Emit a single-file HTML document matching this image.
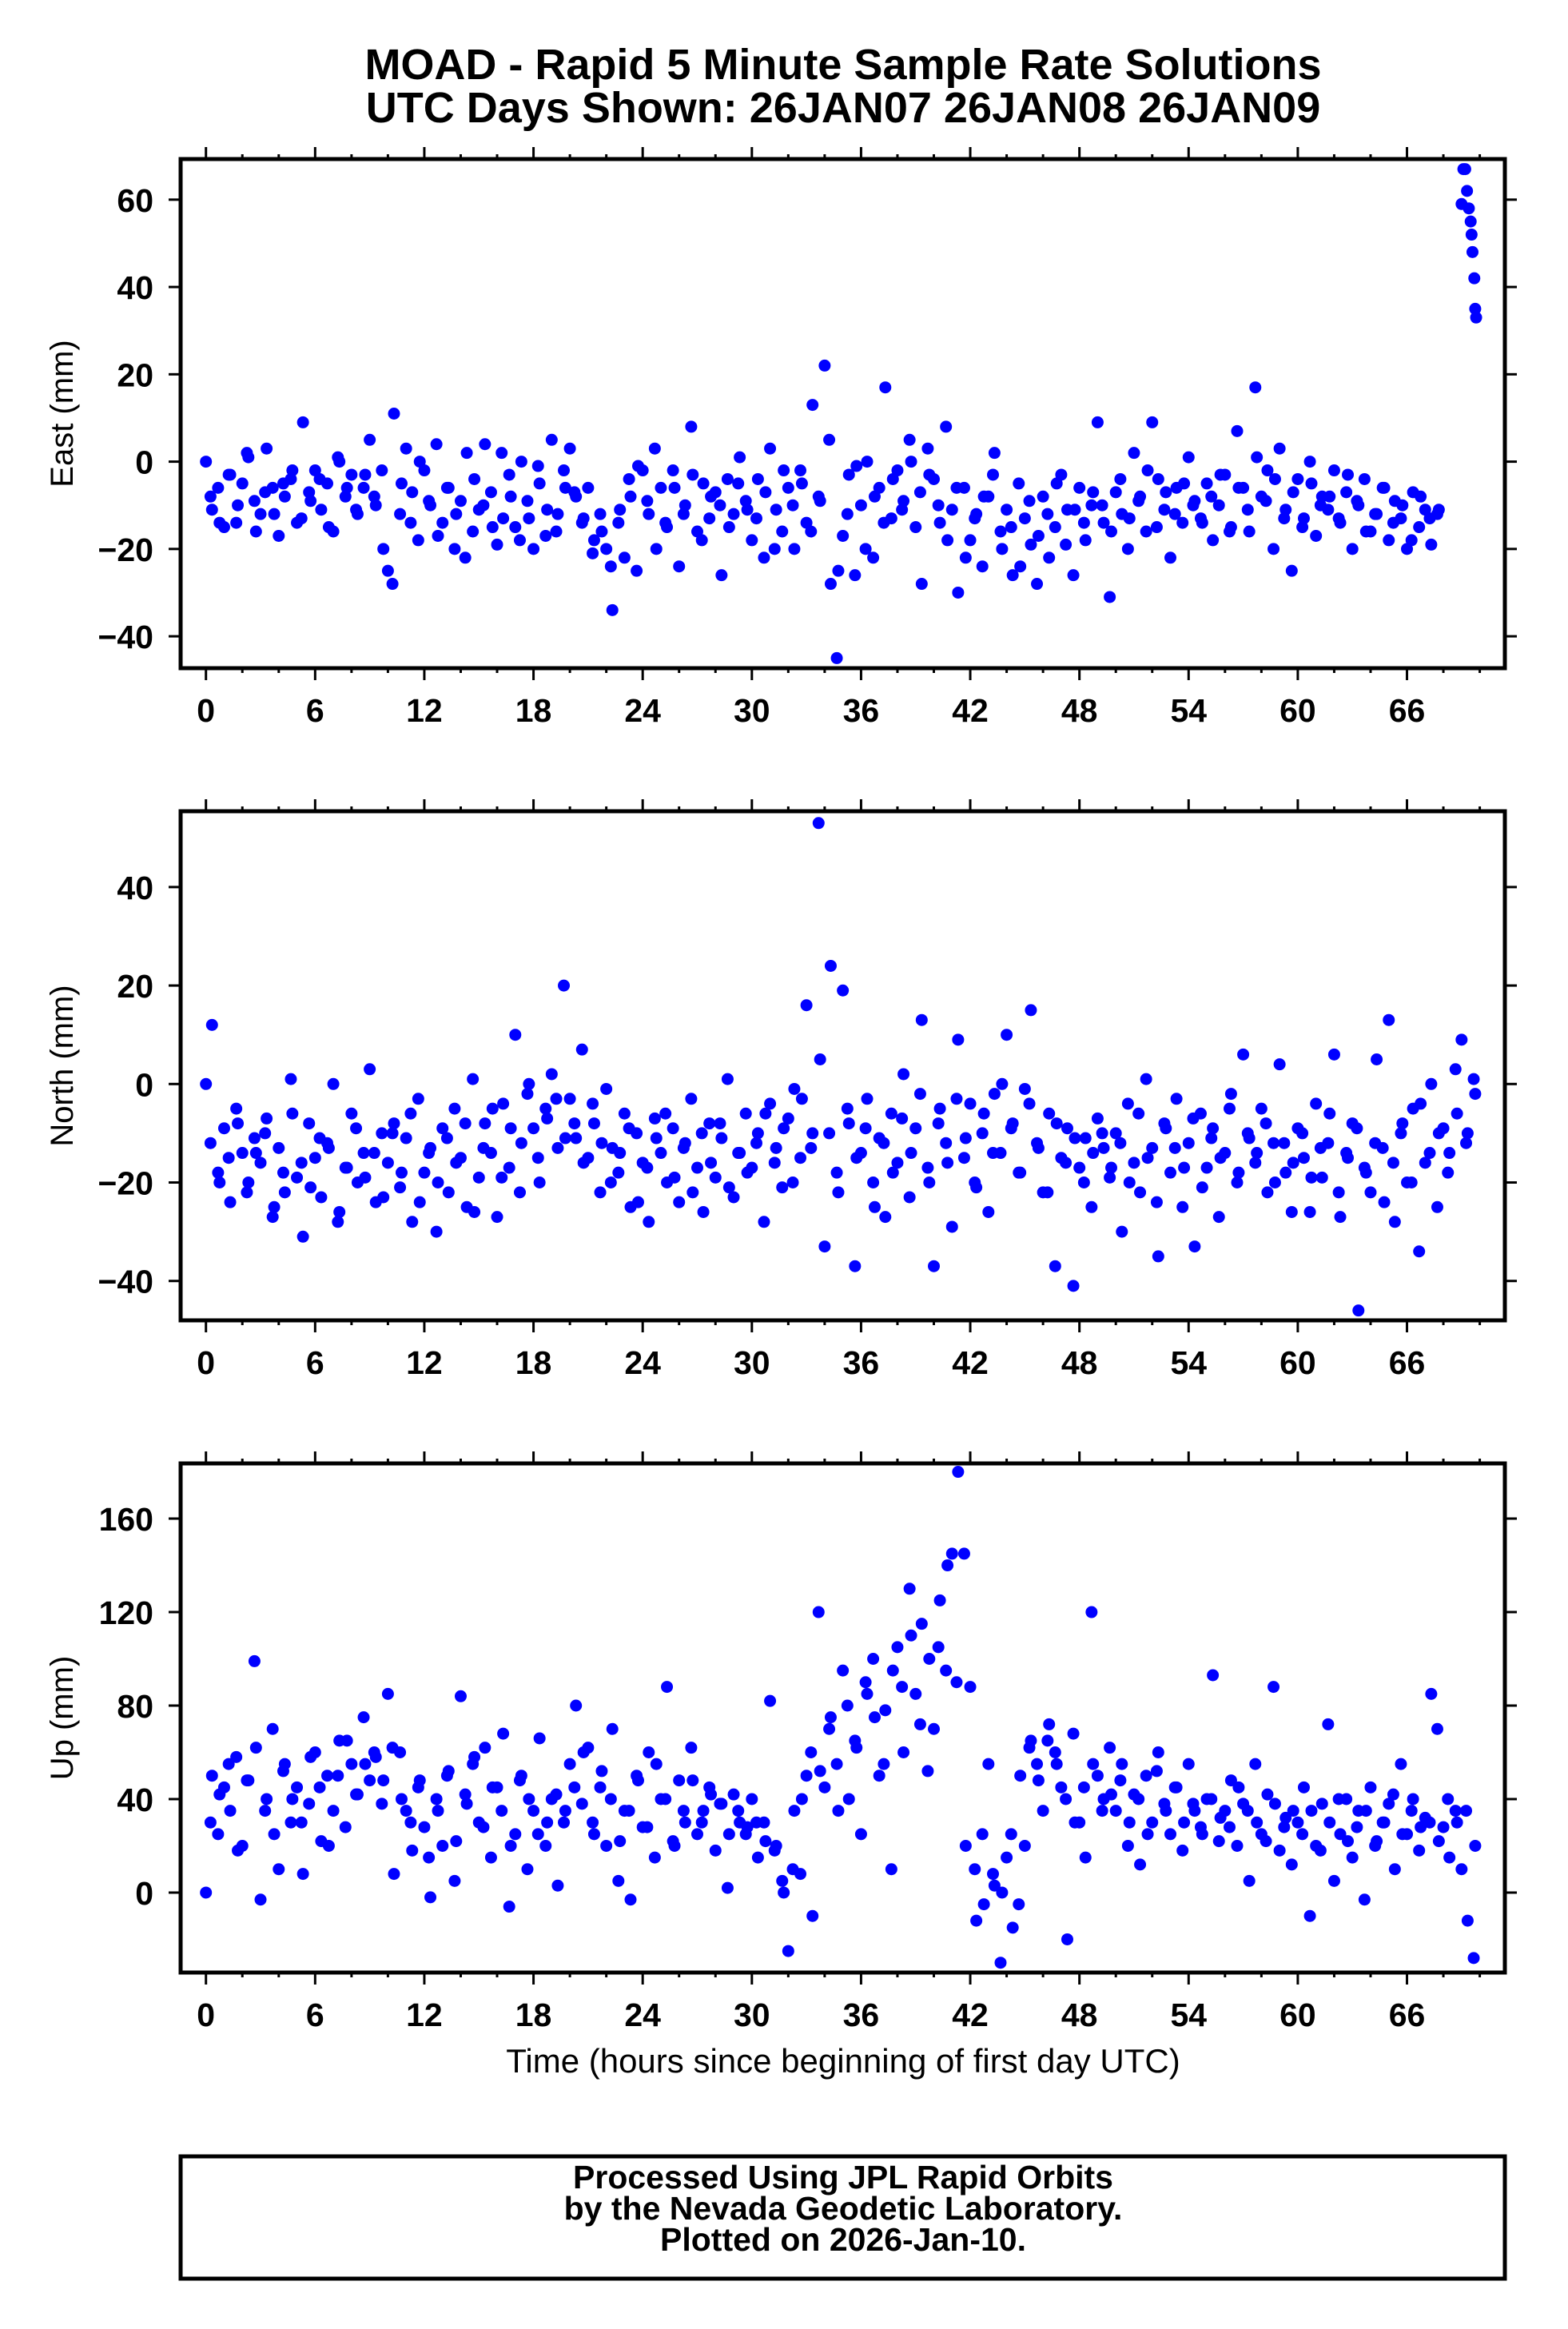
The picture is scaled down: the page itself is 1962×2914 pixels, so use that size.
<!DOCTYPE html>
<html><head><meta charset="utf-8"><style>
html,body{margin:0;padding:0;background:#fff}
svg{display:block}
text{font-family:"Liberation Sans",Arial,sans-serif}
</style></head><body>
<svg id="chart" width="1962" height="2914" viewBox="0 0 1962 2914" xmlns="http://www.w3.org/2000/svg">
<text x="1055" y="99" text-anchor="middle" font-size="54" font-weight="bold">MOAD - Rapid 5 Minute Sample Rate Solutions</text>
<text x="1055" y="153" text-anchor="middle" font-size="54" font-weight="bold">UTC Days Shown:  26JAN07 26JAN08 26JAN09</text>
<g id="panels"></g>
<text x="1055" y="2593" text-anchor="middle" font-size="42">Time (hours since beginning of first day UTC)</text>
<rect x="226" y="2698" width="1657" height="153" fill="none" stroke="#000" stroke-width="5"/>
<text x="1055" y="2738" text-anchor="middle" font-size="41" font-weight="bold">Processed Using JPL Rapid Orbits</text>
<text x="1055" y="2777" text-anchor="middle" font-size="41" font-weight="bold">by the Nevada Geodetic Laboratory.</text>
<text x="1055" y="2816" text-anchor="middle" font-size="41" font-weight="bold">Plotted on 2026-Jan-10.</text>
</svg>
<script>
const stepHours = 1/3;
const step2Hours = 0.5;
const offset2Hours = 0.25;
const xTicks = [0,6,12,18,24,30,36,42,48,54,60,66];
const eastTicks = [60,40,20,0,-20,-40];
const northTicks = [40,20,0,-20,-40];
const upTicks = [160,120,80,40,0];
const eastValues = [0,-11,-6,-15,-3,-14,-5,1,-9,-12,3,-6,-17,-8,-4,
-14,9,-7,-2,-11,-5,-16,0,-8,-3,-12,-6,5,-10,-2,
-25,11,-12,3,-7,-18,-2,-10,4,-14,-6,-20,-9,2,-16,
-11,4,-7,-19,-13,-3,-15,0,-9,-20,-5,-17,5,-12,-2,
3,-8,-14,-6,-18,-12,-20,-34,-14,-22,-8,-25,-2,-12,3,
-6,-15,-2,-24,-10,8,-16,-5,-13,-7,-26,-4,-12,1,-9,
-18,-4,-22,3,-11,-16,-6,-20,-2,-14,13,-8,22,-28,-45,
-17,-3,-26,-10,0,-22,-6,17,-13,-2,-9,5,-15,-28,3,
-4,-14,8,-11,-30,-6,-18,-12,-24,-8,2,-16,-11,-26,-5,
-13,-19,-28,-8,-22,-15,-3,-11,-26,-6,-18,-10,9,-14,-31,
-7,-12,-20,2,-8,-16,9,-4,-11,-22,-6,-14,1,-9,-13,
-5,-18,-10,-3,-15,7,-6,-16,17,-8,-2,-20,3,-11,-25,
-4,-13,0,-17,-8,-11,-2,-14,-7,-20,-10,-4,-16,-12,-6,
-18,-9,-13,-20,-7,-15,-11,-19,-12];
const eastValues2 = [-8,-14,-3,-10,2,-16,-7,-12,-5,-2,-13,-9,-4,-15,1,-6,-11,-3,-8,-20,
-28,-5,-14,0,-9,-17,-6,-12,-22,-4,-10,-15,2,-8,-18,-13,-1,-11,-16,-6,
-7,-13,-21,-16,-24,-11,-4,-1,-9,-20,-14,-6,-12,-3,-18,-8,-10,-15,-5,-11,
-13,-7,-20,-2,-10,-5,-16,-9,5,-25,-12,-1,-20,-8,-14,-4,-11,0,-7,-3,
-10,-18,-6,-22,-13,-8,-3,-20,-15,-24,-9,-17,-12,-5,-19,-11,-14,-7,-10,-16,
-4,-13,-9,-2,-15,-7,-12,-5,-10,-14,-8,-3,-16,-6,-11,1,-9,-4,-13,-7,
-15,-5,-10,-8,-13,-3,-9,-16,-12,-6,-14,-10,-18,-8,-13,-11];
const eastSpikeHours = [69.0,69.1,69.2,69.3,69.4,69.5,69.55,69.6,69.7,69.75,69.8];
const eastSpikeValues = [59,67,67,62,58,55,52,48,42,35,33];
const northValues = [0,12,-18,-9,-24,-5,-14,-20,-11,-16,-7,-27,-13,-22,1,
-19,-31,-8,-15,-23,-12,0,-26,-17,-6,-20,-14,3,-24,-10,
-16,-8,-21,-11,-28,-3,-18,-13,-30,-9,-22,-5,-15,-25,1,
-19,-8,-14,-27,-4,-17,10,-12,-2,-9,-20,-5,2,-13,20,
-3,-11,7,-15,-8,-22,-1,-13,-18,-6,-25,-10,-16,-28,-7,
-14,-20,-9,-24,-12,-3,-17,-26,-8,-19,-11,1,-23,-14,-6,
-17,-10,-28,-4,-13,-21,-7,-1,-15,16,-10,53,-33,24,-18,
19,-8,-37,-14,-3,-20,-11,-27,-6,-16,2,-23,-9,13,-17,
-37,-5,-12,-29,9,-15,-4,-21,-10,-26,-2,-14,10,-8,-18,
-1,15,-12,-22,-6,-37,-15,-9,-41,-17,-11,-25,-7,-13,-19,
-10,-30,-4,-16,-22,1,-13,-35,-8,-18,-3,-25,-12,-33,-6,
-17,-9,-27,-14,-2,-20,6,-11,-16,-5,-22,-12,4,-18,-26,
-9,-15,-26,-4,-19,-12,6,-27,-14,-8,-46,-17,-22,5,-13,
13,-28,-10,-20,-5,-34,-16,0,-25,-9,-14,3,9,-10,1];
const northValues2 = [-12,-20,-15,-8,-22,-14,-10,-25,-18,-6,-16,-21,-11,-13,-28,-17,-9,-19,-14,-23,
-10,-18,-6,-24,-14,-20,-11,-16,-8,-26,-13,-5,-19,-9,-22,0,-15,-7,-3,-11,
-8,-16,-4,-12,-20,-14,-9,-24,-17,-11,-6,-19,-13,-22,-10,-16,-8,-21,-14,-18,
-12,-6,-16,-9,-20,-3,-13,5,-10,-22,-5,-15,-9,-25,-12,-18,-7,-14,-2,-20,
-8,-16,-3,-11,-20,-6,-14,0,-9,-18,-4,-13,-22,-8,-16,-11,-20,-14,-10,-17,
-12,-20,-6,-15,-24,-9,-13,-17,-7,-21,-11,-15,-5,-18,-10,-14,-8,-20,-12,-16,
-10,-19,-13,-6,-22,-15,-9,-18,-12,-24,-16,-8,-20,-4,-14,-10,-18,-6,-12,-2];
const upValues = [0,50,25,45,35,58,20,48,99,-3,40,70,10,55,30,
45,8,38,60,22,50,35,65,28,55,42,75,48,58,38,
85,8,60,35,18,45,28,-2,40,20,52,5,84,38,55,
30,62,15,45,68,-6,25,50,10,35,66,20,40,3,30,
55,80,38,62,25,45,20,70,5,35,-3,50,28,60,15,
40,88,22,48,30,62,25,35,45,18,38,2,42,30,25,
40,15,30,82,20,5,-25,35,8,50,-10,120,45,75,55,
95,40,65,25,85,100,50,78,10,105,60,130,85,115,52,
70,125,95,145,180,145,88,-12,25,55,3,-30,15,-15,-5,
20,65,55,35,72,60,45,-20,68,30,15,120,50,40,62,
35,55,20,42,12,50,30,60,38,25,45,18,55,35,28,
40,93,22,35,48,20,38,5,55,25,42,88,18,32,12,
30,45,-10,20,38,72,5,25,40,15,35,-3,45,22,30,
38,10,55,25,40,18,32,85,70,28,15,35,10,-12,-28];
const upValues2 = [30,42,55,18,48,62,35,25,52,40,30,58,45,20,50,65,42,55,60,48,
62,40,30,48,15,35,50,22,42,58,28,45,35,20,48,40,25,30,42,35,
45,60,30,52,40,22,35,48,28,55,40,20,35,48,30,42,38,25,35,28,
30,22,18,0,10,40,60,52,70,35,80,62,90,75,55,95,88,110,72,100,
105,140,90,20,10,-5,8,0,25,50,62,48,65,55,40,30,45,55,35,42,
48,30,40,25,52,35,45,30,38,25,40,32,28,45,35,30,22,38,28,35,
25,35,18,30,40,22,28,35,20,30,42,25,35,28,30,22,40,30,35,20];

const NS='http://www.w3.org/2000/svg';
const root=document.getElementById('panels');
const L=226,R=1883;
function xS(h){return 257.7+h*22.77;}
function mk(tag,attrs,parent){const e=document.createElementNS(NS,tag);for(const k in attrs)e.setAttribute(k,attrs[k]);parent.appendChild(e);return e;}

function panel(key,top,yMax,yMin,ticks,title,series){
  const bot=top+637;
  const yS=v=>top+(yMax-v)/(yMax-yMin)*637;
  const g=mk('g',{},root);
  
  
  for(let h=0;h<=70;h+=2){
    const major=h%6===0;const len=major?15:6;const x=xS(h);
    const t1=mk('line',{x1:x,x2:x,y1:bot,y2:bot+len,stroke:'#000','stroke-width':3},g);
    
    
    const t2=mk('line',{x1:x,x2:x,y1:top,y2:top-len,stroke:'#000','stroke-width':3},g);
    
    
  }
  xTicks.forEach(h=>{
    const t=mk('text',{x:xS(h),y:bot+67,'text-anchor':'middle','font-size':41,'font-weight':'bold'},g);
    t.textContent=h;
    
    
  });
  ticks.forEach(v=>{
    const y=yS(v);
    const a=mk('line',{x1:L-15,x2:L,y1:y,y2:y,stroke:'#000','stroke-width':3},g);
    
    
    const b=mk('line',{x1:R,x2:R+15,y1:y,y2:y,stroke:'#000','stroke-width':3},g);
    
    
    const t=mk('text',{x:192,y:y+15,'text-anchor':'end','font-size':41,'font-weight':'bold'},g);
    t.textContent=(v<0?'\u2212'+(-v):v);
    
    
  });
  const cy=(top+bot)/2;
  const tt=mk('text',{x:0,y:0,'text-anchor':'middle','font-size':40,transform:`translate(91,${cy}) rotate(-90)`},g);
  tt.textContent=title;
  
  
  const pts=mk('g',{fill:'#0000ff'},g);
  
  
  series.forEach(s=>{
    s.vals.forEach((v,i)=>{
      const c=mk('circle',{cx:xS(s.hours(i)),cy:yS(v),r:7.5},pts);
      
      
    });
  });
  const fr=mk('rect',{x:L,y:top,width:R-L,height:637,fill:'none',stroke:'#000','stroke-width':5},g);
  
  
}
panel('east',199,69.3,-47.3,eastTicks,'East (mm)',[
  {vals:eastValues,hours:i=>i*stepHours},
  {vals:eastValues2,hours:i=>offset2Hours+i*step2Hours},
  {vals:eastSpikeValues,hours:i=>eastSpikeHours[i]}]);
panel('north',1015,55.4,-48.0,northTicks,'North (mm)',[
  {vals:northValues,hours:i=>i*stepHours},
  {vals:northValues2,hours:i=>offset2Hours+i*step2Hours}]);
panel('up',1831,183.6,-34.2,upTicks,'Up (mm)',[
  {vals:upValues,hours:i=>i*stepHours},
  {vals:upValues2,hours:i=>offset2Hours+i*step2Hours}]);
</script>
</body></html>
